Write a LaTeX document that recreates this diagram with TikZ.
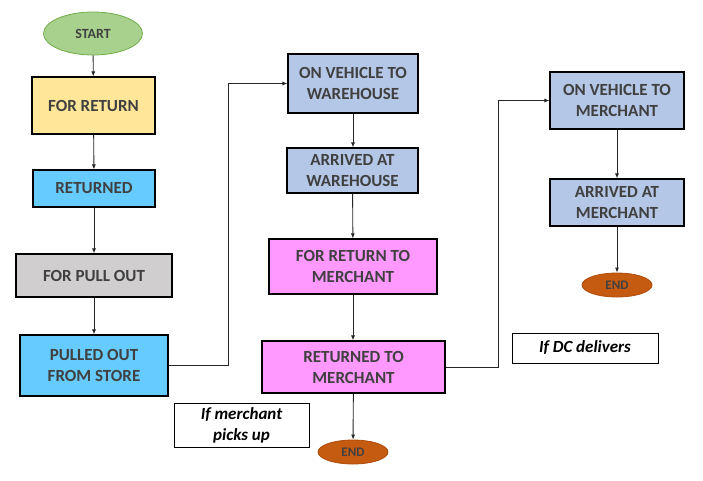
\documentclass[tikz,border=0pt]{standalone}
\usepackage{fontspec}
\setmainfont{Carlito}
\usetikzlibrary{arrows.meta}
\definecolor{txt}{HTML}{404040}
\definecolor{cyellow}{HTML}{FFE699}
\definecolor{cblue}{HTML}{66CCFF}
\definecolor{cgray}{HTML}{D0CECE}
\definecolor{csteel}{HTML}{B4C7E7}
\definecolor{cpink}{HTML}{FF99FF}
\definecolor{cgreen}{HTML}{A9D18E}
\definecolor{cgreenb}{HTML}{70AD47}
\definecolor{corange}{HTML}{C55A11}
\definecolor{corangeb}{HTML}{AE4D0C}
\tikzset{
  stepbox/.style={draw=black, line width=1.1pt, align=center, text=txt,
    font=\fontsize{17}{21}\selectfont\bfseries, inner sep=0pt},
  note/.style={draw=black, line width=0.9pt, fill=white, align=center, text=black,
    font=\fontsize{17}{21}\selectfont\bfseries\itshape, inner sep=0pt},
  term/.style={ellipse, draw, line width=0.8pt, text=txt, inner sep=0pt},
  conn/.style={draw=black!85, line width=0.9pt, -{Latex[length=5pt,width=4pt]}}
}
\usetikzlibrary{shapes.geometric}
\begin{document}
\begin{tikzpicture}[x=1pt,y=-1pt]
\useasboundingbox (0,0) rectangle (703,480);
\node[term, fill=cgreen, draw=cgreenb, minimum width=99, minimum height=43,
  font=\fontsize{14}{17}\selectfont\bfseries] (start) at (93,33.5) {START};
\node[stepbox, fill=cyellow, minimum width=123, minimum height=57] (forret) at (93.5,105.5) {FOR RETURN};
\node[stepbox, fill=cblue, minimum width=122, minimum height=37] (ret) at (94,188.5) {RETURNED};
\node[stepbox, fill=cgray, minimum width=156, minimum height=43] (pull) at (94,275.5) {FOR PULL OUT};
\node[stepbox, fill=cblue, minimum width=148, minimum height=61] (pulled) at (94,365.5) {PULLED OUT\\FROM STORE};
\node[stepbox, fill=csteel, minimum width=130, minimum height=59] (onvw) at (353,83.5) {ON VEHICLE TO\\WAREHOUSE};
\node[stepbox, fill=csteel, minimum width=131, minimum height=45] (arrw) at (352.5,170.5) {ARRIVED AT\\WAREHOUSE};
\node[stepbox, fill=cpink, minimum width=168, minimum height=55] (frtm) at (353,266.5) {FOR RETURN TO\\MERCHANT};
\node[stepbox, fill=cpink, minimum width=183, minimum height=52] (rtm) at (353.5,367) {RETURNED TO\\MERCHANT};
\node[term, fill=corange, draw=corangeb, minimum width=70, minimum height=24,
  font=\fontsize{13}{15}\selectfont\bfseries] (end1) at (353,452) {END};
\node[stepbox, fill=csteel, minimum width=134, minimum height=57] (onvm) at (617,100.5) {ON VEHICLE TO\\MERCHANT};
\node[stepbox, fill=csteel, minimum width=134, minimum height=47] (arrm) at (617,202.5) {ARRIVED AT\\MERCHANT};
\node[term, fill=corange, draw=corangeb, minimum width=70, minimum height=24,
  font=\fontsize{13}{15}\selectfont\bfseries] (end2) at (617,285) {END};
\node[note, minimum width=146, minimum height=30] (dc) at (585,348) {If DC delivers};
\node[note, minimum width=135, minimum height=44] (mp) at (241.5,425) {If merchant\\picks up};

\draw[conn] (start) -- (forret);
\draw[conn] (forret) -- (ret);
\draw[conn] (ret) -- (pull);
\draw[conn] (pull) -- (pulled);
\draw[conn] (pulled.east) -- ++(60,0) |- (onvw.west);
\draw[conn] (onvw) -- (arrw.north -| onvw);
\draw[conn] (arrw) -- (frtm);
\draw[conn] (frtm) -- (rtm.north -| frtm);
\draw[conn] (rtm) -- (end1);
\draw[conn] (rtm.east) -- ++(53,0) |- (onvm.west);
\draw[conn] (onvm) -- (arrm);
\draw[conn] (arrm) -- (end2);
\end{tikzpicture}
\end{document}
